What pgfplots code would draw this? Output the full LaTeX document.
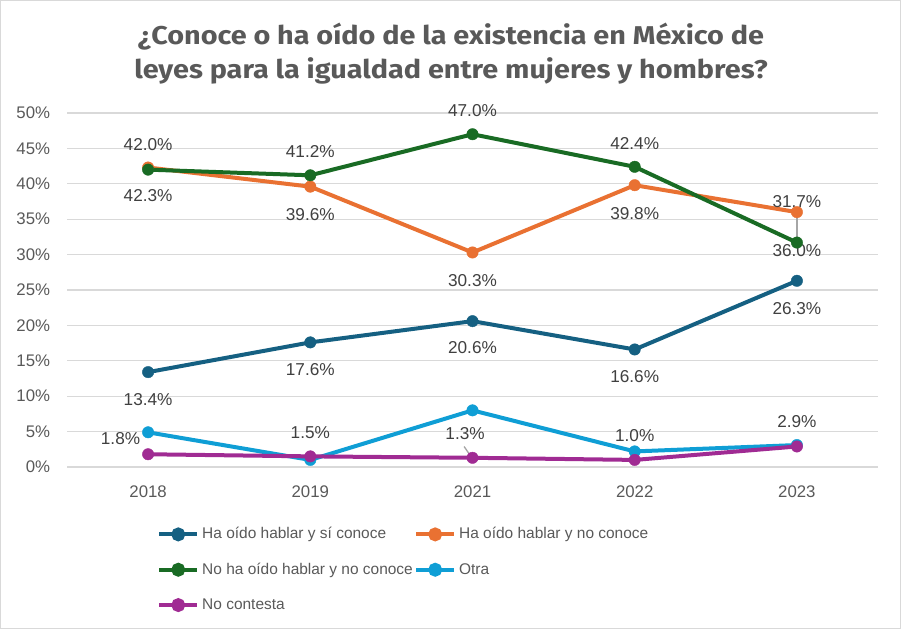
\documentclass[border=0pt]{standalone}
\usepackage{fontspec}
\setmainfont{Liberation Sans}
\newfontfamily\titlefont{Fira Sans}[FakeStretch=1.12]
\usepackage{pgfplots}
\pgfplotsset{compat=1.18}
\definecolor{cBlue}{HTML}{156082}
\definecolor{cOrange}{HTML}{E97132}
\definecolor{cGreen}{HTML}{196B24}
\definecolor{cLight}{HTML}{0F9ED5}
\definecolor{cPurple}{HTML}{A02B93}
\definecolor{cGrid}{HTML}{D9D9D9}
\definecolor{cTick}{HTML}{595959}
\definecolor{cLab}{HTML}{404040}
\definecolor{cLead}{HTML}{A6A6A6}
\tikzset{ser/.style={line width=3pt, mark=*, mark size=4.3pt, mark options={solid, line width=0.3pt}}}
\begin{document}
\begin{tikzpicture}
\path[use as bounding box] (0,0) rectangle (676.5pt,473.25pt);
\draw[cGrid, line width=0.9pt] (0.6pt,1.8pt) rectangle (675.2pt,472.6pt);
\node[text=cTick, font=\titlefont\bfseries\fontsize{19.3}{22}\selectfont] at (338.25pt,445.5pt) {¿Conoce o ha oído de la existencia en México de};
\node[text=cTick, font=\titlefont\bfseries\fontsize{19.3}{22}\selectfont] at (338.25pt,419.75pt) {leyes para la igualdad entre mujeres y hombres?};
\begin{axis}[
  at={(50.25pt,123pt)}, anchor=south west,
  scale only axis, width=608.25pt, height=265.5pt,
  xmin=-0.5, xmax=4.5, ymin=0, ymax=50,
  axis line style={draw=none},
  major tick length=0pt,
  xtick={0,1,2,3,4}, xticklabels={2018,2019,2021,2022,2023},
  ytick={0,5,10,15,20,25,30,35,40,45,50},
  yticklabels={0\%,5\%,10\%,15\%,20\%,25\%,30\%,35\%,40\%,45\%,50\%},
  ymajorgrids, grid style={cGrid, line width=0.8pt},
  tick label style={text=cTick, font=\fontsize{12.6}{14}\selectfont, inner sep=0pt},
  yticklabel style={anchor=east, xshift=-12.5pt},
  xticklabel style={anchor=north, yshift=-14pt},
  clip=false,
  legend columns=2,
  legend cell align=left,
  legend style={at={(0.111,-0.168)}, anchor=north west, draw=none, fill=none,
    inner sep=0pt, row sep=15pt,
    font=\fontsize{11.6}{13}\selectfont, text=cTick,
    nodes={inner sep=0pt, text height=9pt, text depth=2.5pt},
    /tikz/every odd column/.style={column sep=2.2pt},
    /tikz/every even column/.style={column sep=1pt}},
  legend image code/.code={\draw[line width=3pt] (0pt,0pt) -- (28.5pt,0pt); \fill (14.25pt,0pt) circle (3.7pt);},
]
\addplot[cBlue, ser] coordinates {(0,13.4) (1,17.6) (2,20.6) (3,16.6) (4,26.3)};
\addlegendentry{Ha oído hablar y sí conoce}
\addplot[cOrange, ser] coordinates {(0,42.3) (1,39.6) (2,30.3) (3,39.8) (4,36.0)};
\addlegendentry{Ha oído hablar y no conoce}
\addplot[cGreen, ser] coordinates {(0,42.0) (1,41.2) (2,47.0) (3,42.4) (4,31.7)};
\addlegendentry{No ha oído hablar y no conoce}
\addplot[cLight, ser] coordinates {(0,4.9) (1,1.0) (2,8.0) (3,2.2) (4,3.1)};
\addlegendentry{Otra}
\addplot[cPurple, ser] coordinates {(0,1.8) (1,1.5) (2,1.3) (3,1.0) (4,2.9)};
\addlegendentry{No contesta}
% leader lines
\draw[cLead, line width=1pt] (axis cs:4,35.9) -- (axis cs:4,31.8);
\draw[cLead, line width=1pt] (axis cs:1.948,2.9) -- (axis cs:1.99,1.5);
% data labels
\begin{scope}[every node/.style={text=cLab, font=\fontsize{12.9}{15}\selectfont, inner sep=0pt}]
\node at (axis cs:0,45.5) {42.0\%};
\node at (axis cs:0,38.4) {42.3\%};
\node at (axis cs:1,44.5) {41.2\%};
\node at (axis cs:1,35.6) {39.6\%};
\node at (axis cs:2,50.3) {47.0\%};
\node at (axis cs:2,26.4) {30.3\%};
\node at (axis cs:3,45.7) {42.4\%};
\node at (axis cs:3,35.8) {39.8\%};
\node at (axis cs:4,37.5) {31.7\%};
\node at (axis cs:4,30.6) {36.0\%};
\node at (axis cs:0,9.5) {13.4\%};
\node at (axis cs:1,13.8) {17.6\%};
\node at (axis cs:2,16.8) {20.6\%};
\node at (axis cs:3,12.75) {16.6\%};
\node at (axis cs:4,22.4) {26.3\%};
\node at (axis cs:-0.17,4.05) {1.8\%};
\node at (axis cs:1,4.9) {1.5\%};
\node at (axis cs:1.954,4.75) {1.3\%};
\node at (axis cs:3,4.4) {1.0\%};
\node at (axis cs:4,6.4) {2.9\%};
\end{scope}
\end{axis}
\end{tikzpicture}
\end{document}
